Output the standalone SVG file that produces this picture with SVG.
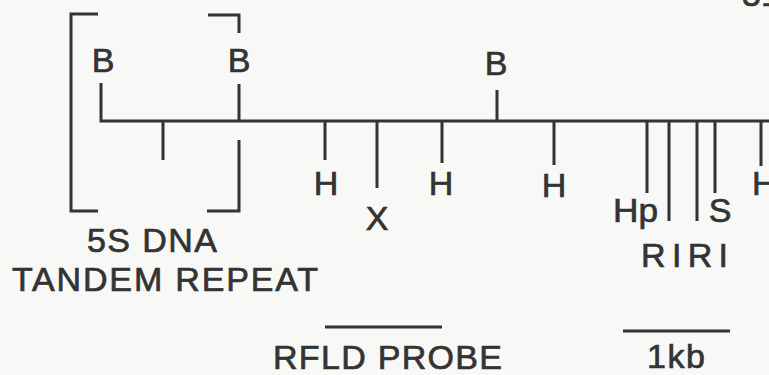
<svg xmlns="http://www.w3.org/2000/svg" width="769" height="375" viewBox="0 0 769 375">
<style>
.ln{stroke:#333;stroke-width:3;fill:none;stroke-linecap:butt}
.t{font-family:"Liberation Sans",Arial,sans-serif;font-size:34px;fill:#333;stroke:#333;stroke-width:0.7}
.m{text-anchor:middle}
</style>
<rect width="769" height="375" fill="#f8f8f6"/>
<text class="t" x="742" y="6">51</text>
<g id="bracket">
<path class="ln" d="M98,14 H71 V211 H98"/>
<path class="ln" d="M208,15 H239 V33"/>
<path class="ln" d="M239,140 V211 H207"/>
</g>
<g id="connectors">
<path class="ln" d="M101,83 V121 H769"/>
<path class="ln" d="M163,121 V160"/>
</g>
<g id="site-B1"><text class="t m" x="103" y="72">B</text></g>
<g id="site-B2"><path class="ln" d="M239,84 V121"/><text class="t m" x="239" y="72">B</text></g>
<g id="site-H1"><path class="ln" d="M325,121 V160"/><text class="t m" x="326" y="195">H</text></g>
<g id="site-X"><path class="ln" d="M377,121 V188"/><text class="t m" x="377" y="230">X</text></g>
<g id="site-H2"><path class="ln" d="M442,121 V163"/><text class="t m" x="441" y="195">H</text></g>
<g id="site-B3"><path class="ln" d="M497,90 V121"/><text class="t m" x="496" y="75">B</text></g>
<g id="site-H3"><path class="ln" d="M554,121 V165"/><text class="t m" x="554" y="197">H</text></g>
<g id="site-Hp"><path class="ln" d="M647,121 V193"/><text class="t" x="613" y="222" textLength="45" lengthAdjust="spacingAndGlyphs">Hp</text></g>
<g id="site-RI"><path class="ln" d="M669,121 V221"/><path class="ln" d="M697,121 V221"/><text class="t" x="641" y="267" textLength="87" lengthAdjust="spacing">RIRI</text></g>
<g id="site-S"><path class="ln" d="M715,121 V193"/><text class="t m" x="720" y="222">S</text></g>
<g id="site-H4"><path class="ln" d="M761,121 V166"/><text class="t" x="752" y="195">H</text></g>
<g id="label-5S">
<text class="t" x="87" y="252" textLength="130" lengthAdjust="spacing">5S DNA</text>
<text class="t" x="12" y="291" textLength="306" lengthAdjust="spacing">TANDEM REPEAT</text>
</g>
<g id="probe"><path class="ln" d="M325,327 H442"/><text class="t" x="273" y="369" textLength="229" lengthAdjust="spacing">RFLD PROBE</text></g>
<g id="scale"><path class="ln" d="M623,331 H730"/><text class="t" x="647" y="368" textLength="58" lengthAdjust="spacing">1kb</text></g>
</svg>
